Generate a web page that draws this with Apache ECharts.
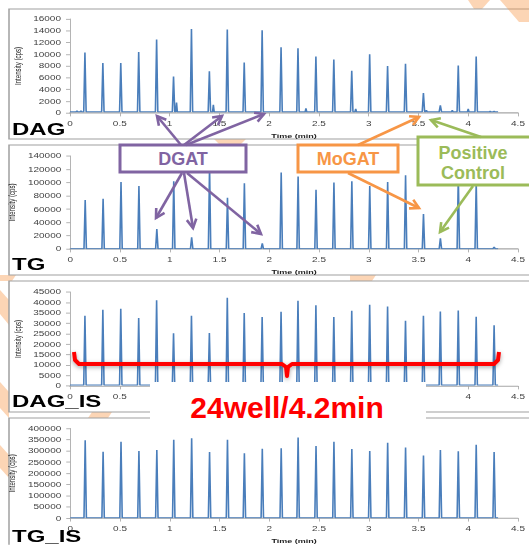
<!DOCTYPE html>
<html>
<head>
<meta charset="utf-8">
<script src="https://cdn.jsdelivr.net/npm/echarts@6/dist/echarts.min.js"></script>
<style>
html,body{margin:0;padding:0;background:#fff;}
#wrap{position:relative;width:529px;height:545px;overflow:hidden;background:#fff;}
#charts{position:absolute;left:0;top:0;width:529px;height:801px;transform:scaleY(0.68);transform-origin:0 0;}
#notes{position:absolute;left:0;top:0;width:529px;height:545px;}
</style>
</head>
<body>
<div id="wrap"><div id="charts"></div><div id="notes"></div></div>
<script>
// ---------------- data ----------------
const panelNames = ['DAG', 'TG', 'DAG_IS', 'TG_IS'];
const xTicks = [0, 0.5, 1, 1.5, 2, 2.5, 3, 3.5, 4, 4.5];
const xTicksHiddenInDagIs = [1, 1.5, 2, 2.5, 3, 3.5];
const yMax = [16000, 140000, 45000, 400000];
const yStep = [2000, 20000, 5000, 50000];
const runEnd = 4.30;
const peakTimes = [0.15,0.33,0.51,0.69,0.87,1.04,1.22,1.40,1.58,1.75,1.93,2.12,2.29,2.47,2.65,2.83,3.01,3.19,3.37,3.55,3.72,3.90,4.08,4.26];
const dagPeaks = [10300,8500,8500,10400,12500,6200,14300,7100,14200,8600,14100,11200,11000,9600,9100,7200,10000,8000,8400,3400,1300,8100,9600,300];
const dagMinorTimes = [0.07,0.11,1.07,1.44,2.37,2.87,3.58,3.84,4.00,4.22];
const dagMinorPeaks = [400,400,1800,1400,800,700,500,500,700,300];
const tgPeaks = [73700,75700,101000,95000,30000,102000,17600,125000,77000,99000,8500,115000,109000,89000,100000,102000,95000,101000,111000,52700,16000,110000,100000,3000];
const dagIsPeaks = [33600,36500,37000,32600,41000,25200,33600,25400,42300,35000,33000,35500,40800,38700,33000,36000,38900,38100,31200,33600,35700,36200,33100,29100];
const tgIsPeaks = [348000,296000,341000,300000,304000,350000,356000,295000,350000,290000,310000,312000,360000,322000,341000,309000,300000,336000,315000,279000,304000,298000,328000,295000];
const baselines = [200, 300, 500, 1500];

// ---------------- layout (image px) ----------------
const S = 0.68;
const Y = v => v / S;
const FONT = '"Liberation Sans", Arial, sans-serif';
const plotTops = [19, 156, 292, 428.5];
const plotZeros = [113, 249, 386, 522];
const panelBoxes = [[9, 9, 139], [9, 145, 275], [9, 281, 412], [9, 418, 570]];
const labelCenters = [129, 264, 401.5, 536.5];
const BLUE = '#4a7ebb';

function buildTrace(times, heights, base, minorT, minorH) {
  const pk = times.map((t, i) => ({t: t, h: heights[i], w: 0.012}));
  (minorT || []).forEach((t, i) => pk.push({t: t, h: minorH[i], w: 0.008}));
  pk.sort((a, b) => a.t - b.t);
  const pts = [[0, base]];
  pk.forEach(p => { pts.push([p.t - p.w, base], [p.t, p.h], [p.t + p.w, base]); });
  pts.push([runEnd, base]);
  return pts;
}
const traces = [
  buildTrace(peakTimes, dagPeaks, baselines[0], dagMinorTimes, dagMinorPeaks),
  buildTrace(peakTimes, tgPeaks, baselines[1]),
  buildTrace(peakTimes, dagIsPeaks, baselines[2]),
  buildTrace(peakTimes, tgIsPeaks, baselines[3])
];

// background stripes (image px polygons)
const stripesBelow = [
  [[468,0],[490,0],[482,9],[474,9]],
  [[0,290],[9,300],[9,325],[0,314]],
  [[0,382],[9,392],[9,418],[0,408]],
  [[0,445],[9,455],[9,478],[0,468]],
  [[0,275],[16,275],[12,281],[0,281]],
  [[350,275],[376,275],[372,281],[350,281]],
  [[214,139],[246,139],[240,145],[220,145]],
  [[92,412],[112,412],[108,418],[88,418]]
];
const stripesAbove = [
  [[500,0],[529,0],[529,22],[519,22]]
];

const gfx = [];
stripesBelow.concat(stripesAbove).forEach((poly, k) => {
  gfx.push({type: 'polygon', z: k < stripesBelow.length ? 0 : 2, silent: true,
    shape: {points: poly.map(p => [p[0], Y(p[1])])},
    style: {fill: 'rgba(247,150,70,0.4)'}});
});
panelBoxes.forEach(b => {
  gfx.push({type: 'rect', z: 1, silent: true,
    shape: {x: b[0], y: Y(b[1]), width: 560, height: Y(b[2] - b[1])},
    style: {fill: '#ffffff', stroke: '#a0a0a0', lineWidth: 1.5}});
});
panelNames.forEach((n, i) => {
  gfx.push({type: 'text', z: 6, silent: true, x: 12, y: Y(labelCenters[i]),
    style: {text: n, font: 'bold 24px ' + FONT, fill: '#000', verticalAlign: 'middle', align: 'left'}});
});

const grids = [], xAxes = [], yAxes = [], series = [];
for (let i = 0; i < 4; i++) {
  const hideSome = (i === 2);
  grids.push({left: 70, width: 448, top: Y(plotTops[i]), height: Y(plotZeros[i] - plotTops[i])});
  xAxes.push({type: 'value', gridIndex: i, min: xTicks[0], max: xTicks[xTicks.length - 1], interval: xTicks[1] - xTicks[0], z: 3,
    name: hideSome ? '' : 'Time (min)', nameLocation: 'middle', nameGap: 29,
    nameTextStyle: {fontWeight: 'bold', fontSize: 9, color: '#222', fontFamily: FONT},
    axisLine: {lineStyle: {color: '#a6a6a6', width: 1.5}},
    axisTick: {show: true, length: 5, lineStyle: {color: '#a6a6a6'}},
    axisLabel: {fontSize: 10, color: '#404040', margin: 10, fontFamily: FONT, showMinLabel: true, showMaxLabel: true,
      formatter: v => (hideSome && xTicksHiddenInDagIs.indexOf(v) >= 0) ? '' : String(v)},
    splitLine: {show: false}});
  yAxes.push({type: 'value', gridIndex: i, min: 0, max: yMax[i], interval: yStep[i], z: 3,
    name: 'Intensity (cps)', nameLocation: 'middle', nameGap: 39, nameRotate: 90,
    nameTextStyle: {fontSize: 9, color: '#222', fontFamily: FONT},
    axisLine: {show: true, lineStyle: {color: '#a6a6a6', width: 1}},
    axisTick: {show: true, length: 4, lineStyle: {color: '#a6a6a6'}},
    axisLabel: {fontSize: 10, color: '#404040', margin: 9, fontFamily: FONT, formatter: v => String(v)},
    splitLine: {show: false}});
  series.push({type: 'line', xAxisIndex: i, yAxisIndex: i, data: traces[i], z: 4,
    symbol: 'none', showSymbol: false, smooth: false,
    lineStyle: {color: BLUE, width: 1.6}});
}

const chart = echarts.init(document.getElementById('charts'), null, {renderer: 'svg'});
chart.setOption({
  animation: false,
  backgroundColor: 'transparent',
  grid: grids, xAxis: xAxes, yAxis: yAxes, series: series,
  graphic: {elements: gfx}
});

// ---------------- annotation layer (unscaled) ----------------
const PURPLE = '#8064a2', ORANGE = '#f79646', GREEN = '#9bbb59', RED = '#ff0000';
const notes = [];
function arrow(x1, y1, x2, y2, color) {
  const a = Math.atan2(y2 - y1, x2 - x1), L = 10, sp = 0.5;
  notes.push({type: 'line', z: 5, shape: {x1: x1, y1: y1, x2: x2, y2: y2}, style: {stroke: color, lineWidth: 2.6}});
  notes.push({type: 'polyline', z: 5, shape: {points: [
    [x2 - L * Math.cos(a - sp), y2 - L * Math.sin(a - sp)], [x2, y2],
    [x2 - L * Math.cos(a + sp), y2 - L * Math.sin(a + sp)]]},
    style: {stroke: color, lineWidth: 2.6, fill: null, lineJoin: 'miter'}});
}
function box(x, y, w, h, color) {
  notes.push({type: 'rect', z: 4, shape: {x: x, y: y, width: w, height: h}, style: {fill: '#fff', stroke: color, lineWidth: 3}});
}
function label(t, x, y, color, size) {
  notes.push({type: 'text', z: 6, x: x, y: y, style: {text: t, font: 'bold ' + size + 'px ' + FONT, fill: color, align: 'center', verticalAlign: 'middle'}});
}
// white cover + red caption
notes.push({type: 'rect', z: 3, shape: {x: 150, y: 382, width: 276, height: 39}, style: {fill: '#fff'}});
label('24well/4.2min', 287, 407.5, RED, 30);
// red bracket
notes.push({type: 'polyline', z: 4, shape: {points: [[74,352],[75,360],[79,364],[282,364],[286,367],[287,376],[288,367],[292,364],[494,364],[498,360],[499,352]]},
  style: {stroke: RED, lineWidth: 4, fill: null, lineJoin: 'round', shadowBlur: 4, shadowColor: 'rgba(0,0,0,0.35)', shadowOffsetY: 1.5}});
// callout boxes
box(120, 145, 126, 27, PURPLE); label('DGAT', 183, 159, PURPLE, 18);
box(298, 145, 100, 27, ORANGE); label('MoGAT', 348, 159, ORANGE, 18);
box(418, 137, 140, 48, GREEN); label('Positive', 473, 153, GREEN, 18); label('Control', 473, 172.5, GREEN, 18);
// arrows
arrow(181, 145, 157, 116, PURPLE); arrow(184, 145, 222, 116, PURPLE); arrow(186, 145, 264, 114, PURPLE);
arrow(182, 173, 156, 218, PURPLE); arrow(184, 173, 193, 228, PURPLE); arrow(187, 173, 261, 234, PURPLE);
arrow(358, 145, 419, 117, ORANGE); arrow(348, 173, 419, 208, ORANGE);
arrow(481, 137, 431, 120, GREEN); arrow(473, 186, 440, 232, GREEN);

const noteChart = echarts.init(document.getElementById('notes'), null, {renderer: 'svg'});
noteChart.setOption({animation: false, backgroundColor: 'transparent', graphic: {elements: notes}});
</script>
</body>
</html>
